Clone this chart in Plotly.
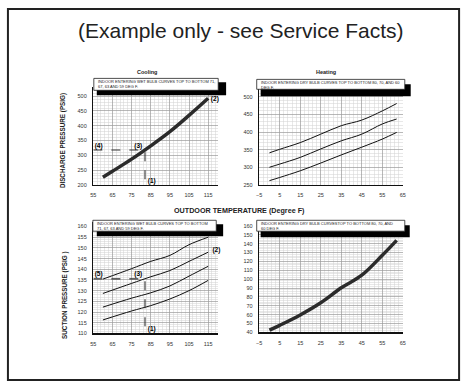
import plotly.graph_objects as go

W, H = 469, 389

# ---------------- data ----------------
cool_dis_x = [60, 65, 75, 85, 95, 105, 115]
cool_dis = [226, 246, 287, 332, 380, 435, 493]

heat_dis_x = [0, 5, 15, 25, 35, 45, 55, 62]
heat_dis_80 = [341, 351, 370, 394, 418, 434, 460, 481]
heat_dis_70 = [300, 309, 328, 352, 375, 394, 423, 437]
heat_dis_60 = [262, 271, 290, 312, 335, 357, 380, 399]

cool_suc_x = [60, 75, 85, 95, 105, 115]
cool_suc_71 = [135.4, 140.3, 143.7, 146.5, 151.5, 155.0]
cool_suc_67 = [128.7, 133.4, 136.5, 139.4, 143.7, 148.0]
cool_suc_63 = [122.3, 126.5, 129.0, 132.2, 136.8, 141.4]
cool_suc_59 = [116.3, 120.5, 123.0, 126.1, 130.0, 134.8]

heat_suc_x = [0, 5, 15, 25, 35, 45, 55, 62]
heat_suc = [42.6, 48.0, 59.7, 73.4, 90.2, 104.4, 126.8, 143.6]

# example reading guides
dis_guide_x = [55, 82, 82]
dis_guide_y = [318, 318, 200]
suc_guide_x = [55, 82, 82]
suc_guide_y = [135.5, 135.5, 110]

# callout labels
dis_label_x = [57.8, 78.5, 118.5, 85.5]
dis_label_y = [331, 331, 488, 212]
dis_label_t = ["(4)", "(3)", "(2)", "(1)"]
suc_label_x = [57.8, 78.5, 119.3, 85.5]
suc_label_y = [137.4, 137.4, 149, 112]
suc_label_t = ["(5)", "(3)", "(2)", "(1)"]

title_text = "(Example only - see Service Facts)"
caption_cool_1 = ["INDOOR ENTERING WET BULB CURVES TOP TO BOTTOM 71,", "67, 63 AND 59 DEG F."]
caption_heat_1 = ["INDOOR ENTERING DRY BULB CURVES TOP TO BOTTOM 80, 70, AND 60", "DEG F."]
caption_cool_2 = ["INDOOR ENTERING WET BULB CURVES TOP TO BOTTOM", "71, 67, 63 AND 59 DEG F."]
caption_heat_2 = ["INDOOR ENTERING DRY BULB CURVESTOP TO BOTTOM 80, 70, AND", "60 DEG F."]

# ---------------- helpers ----------------
def px(x):
    return x / W

def py(y):
    return 1 - y / H

FONT = "Liberation Sans, Arial, sans-serif"
TICKFONT = dict(family=FONT, size=5.5, color="#333")

fig = go.Figure()

def axis_common(rng, dtick, tick0, minor_dtick, dom):
    return dict(
        range=rng, domain=dom, dtick=dtick, tick0=tick0,
        showline=True, linecolor="#111", linewidth=1.5,
        showgrid=True, gridcolor="#9a9a9a", gridwidth=0.7,
        minor=dict(dtick=minor_dtick, tick0=tick0, showgrid=True, gridcolor="#d2d2d2", gridwidth=0.5),
        zeroline=False, ticks="", tickfont=TICKFONT, fixedrange=True,
        ticklabelstandoff=4,
    )

layout = dict(
    width=W, height=H, margin=dict(l=0, r=0, t=0, b=0),
    paper_bgcolor="white", plot_bgcolor="white", showlegend=False,
    font=dict(family=FONT), hovermode=False,
)

layout["xaxis"] = axis_common([55, 120], 10, 55, 2, [px(91.5), px(217.5)])
layout["yaxis"] = axis_common([200, 530], 50, 200, 10, [py(186.3), py(88)])
layout["xaxis"]["anchor"] = "y"; layout["yaxis"]["anchor"] = "x"
layout["xaxis2"] = axis_common([-5, 65], 10, -5, 2, [px(259.5), px(405)])
layout["yaxis2"] = axis_common([250, 527], 50, 250, 10, [py(186.3), py(88)])
layout["xaxis2"]["anchor"] = "y2"; layout["yaxis2"]["anchor"] = "x2"
layout["xaxis3"] = axis_common([55, 120], 10, 55, 2, [px(91.5), px(217.5)])
layout["yaxis3"] = axis_common([110, 162], 5, 110, 1, [py(336), py(224)])
layout["xaxis3"]["anchor"] = "y3"; layout["yaxis3"]["anchor"] = "x3"
layout["xaxis4"] = axis_common([-5, 65], 10, -5, 2, [px(259.5), px(405)])
layout["yaxis4"] = axis_common([40, 164], 10, 40, 2, [py(335), py(224)])
layout["xaxis4"]["anchor"] = "y4"; layout["yaxis4"]["anchor"] = "x4"

fig.update_layout(**layout)

thick = dict(color="#2b2b2b", width=3.5)
thin = dict(color="#111", width=1)
dash = dict(color="#333", width=1.1, dash="dash")
label_font = dict(family=FONT, size=6.5, color="#000000")

fig.add_trace(go.Scatter(x=cool_dis_x, y=cool_dis, mode="lines", line=dict(**thick, shape="spline"), xaxis="x", yaxis="y"))
fig.add_trace(go.Scatter(x=dis_guide_x, y=dis_guide_y, mode="lines", line=dash, xaxis="x", yaxis="y"))
fig.add_trace(go.Scatter(x=dis_label_x, y=dis_label_y, mode="text", text=["<b>%s</b>" % t for t in dis_label_t],
                         textfont=label_font, cliponaxis=False, xaxis="x", yaxis="y"))

for s in (heat_dis_80, heat_dis_70, heat_dis_60):
    fig.add_trace(go.Scatter(x=heat_dis_x, y=s, mode="lines", line=dict(**thin, shape="spline"), xaxis="x2", yaxis="y2"))

for s in (cool_suc_71, cool_suc_67, cool_suc_63, cool_suc_59):
    fig.add_trace(go.Scatter(x=cool_suc_x, y=s, mode="lines", line=dict(**thin, shape="spline"), xaxis="x3", yaxis="y3"))
fig.add_trace(go.Scatter(x=suc_guide_x, y=suc_guide_y, mode="lines", line=dash, xaxis="x3", yaxis="y3"))
fig.add_trace(go.Scatter(x=suc_label_x, y=suc_label_y, mode="text", text=["<b>%s</b>" % t for t in suc_label_t],
                         textfont=label_font, cliponaxis=False, xaxis="x3", yaxis="y3"))

fig.add_trace(go.Scatter(x=heat_suc_x, y=heat_suc, mode="lines", line=dict(**thick, shape="spline"), xaxis="x4", yaxis="y4"))

shapes = []
annotations = []

shapes.append(dict(type="rect", xref="paper", yref="paper", x0=px(5), x1=px(462), y0=py(383), y1=py(9),
                   line=dict(color="#222", width=2), fillcolor="rgba(0,0,0,0)", layer="above"))

def caption(box, shadow, lines):
    bx0, by0, bx1, by1 = box
    sx0, sy0, sx1, sy1 = shadow
    shapes.append(dict(type="rect", xref="paper", yref="paper", x0=px(sx0), x1=px(sx1), y0=py(sy1), y1=py(sy0),
                       line=dict(width=0), fillcolor="black", layer="above"))
    shapes.append(dict(type="rect", xref="paper", yref="paper", x0=px(bx0), x1=px(bx1), y0=py(by1), y1=py(by0),
                       line=dict(color="#222", width=0.8), fillcolor="white", layer="above"))
    for i, t in enumerate(lines):
        annotations.append(dict(xref="paper", yref="paper", x=px(bx0 + 2), y=py(by0 + 3.3 + i * 4.6),
                                xanchor="left", yanchor="middle", showarrow=False, text=t,
                                font=dict(family=FONT, size=4.0, color="#222")))

caption((92, 79, 218, 91), (95, 83, 226, 96), caption_cool_1)
caption((257, 80, 407, 90), (261, 85, 413, 97), caption_heat_1)
caption((91, 222, 216, 233), (95, 226, 223, 238), caption_cool_2)
caption((257, 222, 407, 233), (261, 227, 412, 239), caption_heat_2)

def ptext(x, y, t, size, bold=False, angle=0, color="#222"):
    annotations.append(dict(xref="paper", yref="paper", x=px(x), y=py(y), xanchor="center", yanchor="middle",
                            showarrow=False, text=("<b>%s</b>" % t) if bold else t, textangle=angle,
                            font=dict(family=FONT, size=size, color=color)))

ptext(241.5, 31, title_text, 21, color="#222")
ptext(146, 73, "Cooling", 5.5, bold=True)
ptext(327, 73, "Heating", 5.5, bold=True)
ptext(240, 212, "OUTDOOR TEMPERATURE (Degree F)", 7.2, bold=True)
ptext(61, 142, "DISCHARGE PRESSURE (PSIG)", 6.3, bold=True, angle=-90)
ptext(62, 298, "SUCTION PRESSURE (PSIG )", 6.3, bold=True, angle=-90)

fig.update_layout(shapes=shapes, annotations=annotations)
fig.write_html("out.html", config={"displayModeBar": False, "staticPlot": True},
               post_script="document.body.style.margin='0';document.body.style.overflow='hidden';")
